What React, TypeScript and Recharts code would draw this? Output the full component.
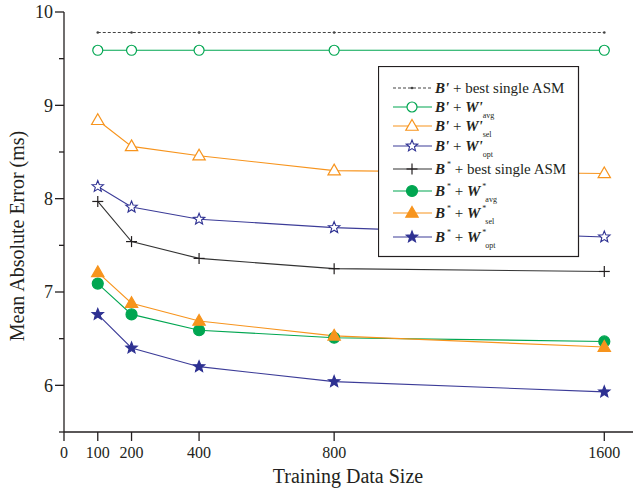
import { LineChart, Line, XAxis, YAxis } from "recharts";

// training set sizes (x) and mean absolute error (ms) per method
const sizes = [100, 200, 400, 800, 1600];
const bPrimeBest = [9.78, 9.78, 9.78, 9.78, 9.78];
const bPrimeAvg = [9.59, 9.59, 9.59, 9.59, 9.59];
const bPrimeSel = [8.84, 8.56, 8.46, 8.3, 8.27];
const bPrimeOpt = [8.13, 7.91, 7.78, 7.69, 7.59];
const bStarBest = [7.97, 7.54, 7.36, 7.25, 7.22];
const bStarAvg = [7.09, 6.76, 6.59, 6.51, 6.47];
const bStarSel = [7.21, 6.88, 6.69, 6.53, 6.41];
const bStarOpt = [6.76, 6.4, 6.2, 6.04, 5.93];

const xTicks = [0, 100, 200, 400, 800, 1600];
const yTicks = [5.5, 6, 6.5, 7, 7.5, 8, 8.5, 9, 9.5, 10];

const data = sizes.map((s, i) => ({
  size: s,
  bPrimeBest: bPrimeBest[i],
  bPrimeAvg: bPrimeAvg[i],
  bPrimeSel: bPrimeSel[i],
  bPrimeOpt: bPrimeOpt[i],
  bStarBest: bStarBest[i],
  bStarAvg: bStarAvg[i],
  bStarSel: bStarSel[i],
  bStarOpt: bStarOpt[i],
}));

const FONT = "'Liberation Serif', 'Times New Roman', serif";
const PLOT_LEFT = 64;
const PLOT_BOTTOM = 432;
const GREEN = "#00a651";
const ORANGE = "#f7941d";
const BLUE = "#2e3192";
const BLACK = "#231f20";

const starPath = (cx: number, cy: number, R: number, r: number) => {
  let d = "";
  for (let k = 0; k < 10; k++) {
    const rad = k % 2 === 0 ? R : r;
    const a = -Math.PI / 2 + (k * Math.PI) / 5;
    d += (k === 0 ? "M" : "L") + (cx + rad * Math.cos(a)).toFixed(2) + "," + (cy + rad * Math.sin(a)).toFixed(2);
  }
  return d + "Z";
};

type Shape = "dot" | "circle" | "triangle" | "star" | "plus";

const Marker = ({ shape, cx, cy, color, filled }: { shape: Shape; cx: number; cy: number; color: string; filled: boolean }) => {
  const fill = filled ? color : "#fff";
  if (shape === "dot") return <circle cx={cx} cy={cy} r={1.3} fill={color} />;
  if (shape === "circle") return <circle cx={cx} cy={cy} r={filled ? 5.5 : 5} fill={fill} stroke={color} strokeWidth={1.2} />;
  if (shape === "triangle") {
    const s = 6.5;
    return (
      <path
        d={`M${cx},${cy - s}L${cx + s * 0.95},${cy + s * 0.65}L${cx - s * 0.95},${cy + s * 0.65}Z`}
        fill={fill}
        stroke={color}
        strokeWidth={1.2}
      />
    );
  }
  if (shape === "star") return <path d={starPath(cx, cy, 6, 2.6)} fill={fill} stroke={color} strokeWidth={1.1} />;
  return (
    <g stroke={color} strokeWidth={1.2}>
      <line x1={cx - 5.5} y1={cy} x2={cx + 5.5} y2={cy} />
      <line x1={cx} y1={cy - 5.5} x2={cx} y2={cy + 5.5} />
    </g>
  );
};

const series = [
  { key: "bPrimeBest", star: false, sub: "", best: true, color: "#444", line: "#444", shape: "dot" as Shape, filled: true, dash: "3 2" },
  { key: "bPrimeAvg", star: false, sub: "avg", best: false, color: GREEN, line: GREEN, shape: "circle" as Shape, filled: false },
  { key: "bPrimeSel", star: false, sub: "sel", best: false, color: ORANGE, line: ORANGE, shape: "triangle" as Shape, filled: false },
  { key: "bPrimeOpt", star: false, sub: "opt", best: false, color: BLUE, line: "#3c3c98", shape: "star" as Shape, filled: false },
  { key: "bStarBest", star: true, sub: "", best: true, color: BLACK, line: "#333", shape: "plus" as Shape, filled: true },
  { key: "bStarAvg", star: true, sub: "avg", best: false, color: GREEN, line: GREEN, shape: "circle" as Shape, filled: true },
  { key: "bStarSel", star: true, sub: "sel", best: false, color: ORANGE, line: ORANGE, shape: "triangle" as Shape, filled: true },
  { key: "bStarOpt", star: true, sub: "opt", best: false, color: BLUE, line: "#3c3c98", shape: "star" as Shape, filled: true },
];

// legend row line positions, relative to the legend box
const legendRows = [22, 41, 60, 80, 103, 125, 147, 171];

const LegendBox = () => (
  <svg width={202} height={192} style={{ position: "absolute", left: 378, top: 66, fontFamily: FONT }}>
    <rect x={0.5} y={0.5} width={200} height={190} fill="#fff" stroke={BLACK} strokeWidth={1.2} />
    {series.map((s, i) => {
      const y = legendRows[i];
      return (
        <g key={s.key}>
          <line x1={15} y1={y} x2={54} y2={y} stroke={s.line} strokeWidth={1.2} strokeDasharray={s.dash} />
          <Marker shape={s.shape} cx={34} cy={y} color={s.color} filled={s.filled} />
          <text x={57} y={y + 5} fontSize={15} fill={BLACK}>
            <tspan fontWeight="bold" fontStyle="italic">B</tspan>
            {s.star ? (
              <tspan fontSize={8} dx={2} dy={-7}>*</tspan>
            ) : (
              <tspan fontWeight="bold" fontStyle="italic">'</tspan>
            )}
            <tspan dy={s.star ? 7 : 0}>{s.best ? " + best single ASM" : " + "}</tspan>
            {s.best ? null : (
              <>
                <tspan fontWeight="bold" fontStyle="italic">W</tspan>
                {s.star ? (
                  <tspan fontSize={8} dx={2} dy={-7}>*</tspan>
                ) : (
                  <tspan fontWeight="bold" fontStyle="italic">'</tspan>
                )}
                <tspan fontSize={8} dx={s.star ? -1 : 0} dy={s.star ? 13 : 6}>{s.sub}</tspan>
              </>
            )}
          </text>
        </g>
      );
    })}
  </svg>
);

const YTick = (props: any) => {
  const v = props.payload.value;
  const major = Number.isInteger(v);
  const y = props.y;
  return (
    <g>
      <line x1={PLOT_LEFT - (major ? 9 : 5)} y1={y} x2={PLOT_LEFT} y2={y} stroke={BLACK} strokeWidth={1.3} />
      {major ? (
        <text x={PLOT_LEFT - 11} y={y} dy="0.35em" textAnchor="end" fontFamily={FONT} fontSize={18} fill={BLACK}>
          {v}
        </text>
      ) : null}
    </g>
  );
};

const XTick = (props: any) => {
  const x = props.x;
  return (
    <g>
      <line x1={x} y1={PLOT_BOTTOM} x2={x} y2={PLOT_BOTTOM + 9} stroke={BLACK} strokeWidth={1.3} />
      <text x={x} y={PLOT_BOTTOM + 26} textAnchor="middle" fontFamily={FONT} fontSize={16} fill={BLACK}>
        {props.payload.value}
      </text>
    </g>
  );
};

export default function App() {
  return (
    <div style={{ position: "absolute", left: 0, top: 0, width: 635, height: 492, background: "#fff" }}>
      <LineChart width={635} height={492} data={data} margin={{ top: 12, right: 2, left: 0, bottom: 0 }}>
        <XAxis
          dataKey="size"
          type="number"
          domain={[0, 1685]}
          ticks={xTicks}
          interval={0}
          height={60}
          tickLine={false}
          tick={<XTick />}
          axisLine={{ stroke: BLACK, strokeWidth: 1.3 }}
          label={() => (
            <text x={348} y={483} textAnchor="middle" fontFamily={FONT} fontSize={20} fill={BLACK}>
              Training Data Size
            </text>
          )}
        />
        <YAxis
          type="number"
          domain={[5.5, 10]}
          ticks={yTicks}
          interval={0}
          width={64}
          tickLine={false}
          tick={<YTick />}
          axisLine={{ stroke: BLACK, strokeWidth: 1.3 }}
          label={() => (
            <text
              x={24}
              y={236}
              transform="rotate(-90 24 236)"
              textAnchor="middle"
              fontFamily={FONT}
              fontSize={20}
              fill={BLACK}
            >
              Mean Absolute Error (ms)
            </text>
          )}
        />
        {series.map((s) => (
          <Line
            key={s.key}
            dataKey={s.key}
            type="linear"
            stroke={s.line}
            strokeWidth={1.1}
            strokeDasharray={s.dash}
            isAnimationActive={false}
            activeDot={false}
            dot={(p: any) => (
              <Marker key={`${s.key}-${p.index}`} shape={s.shape} cx={p.cx} cy={p.cy} color={s.color} filled={s.filled} />
            )}
          />
        ))}
      </LineChart>
      <LegendBox />
    </div>
  );
}
